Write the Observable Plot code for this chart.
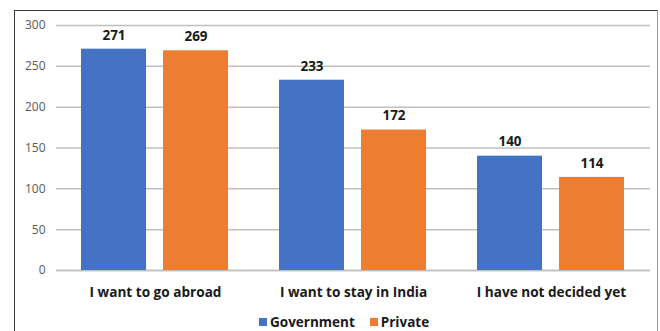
<!DOCTYPE html>
<html>
<head>
<meta charset="utf-8">
<script src="https://cdn.jsdelivr.net/npm/d3@7"></script>
<script src="https://cdn.jsdelivr.net/npm/@observablehq/plot@0.6"></script>
<style>
  html, body { margin: 0; padding: 0; background: #fff; width: 660px; height: 331px; overflow: hidden; }
  #frame { position: absolute; left: 14px; top: 10px; width: 644px; height: 340px;
           border-top: 1px solid #3a3a3a; border-left: 1px solid #3a3a3a; border-right: 1px solid #9a9a9a; box-sizing: border-box; }
  #chart { position: absolute; left: 0; top: 0; }
  #chart svg [aria-label^="fx-axis"] text { font-weight: bold; font-size: 13.6px; fill: #1a1a1a; }
  #legend { position: absolute; left: 259px; top: 313px; font-family: "Open Sans", sans-serif; font-weight: bold; font-size: 13.5px; color: #1a1a1a; display: flex; align-items: center; }
  #legend .item { display: flex; align-items: center; margin-right: 15px; }
  #legend .sw { width: 8px; height: 8px; margin-right: 3px; }
</style>
</head>
<body>
<div id="frame"></div>
<div id="chart"></div>
<div id="legend"></div>
<script>
const categories = ["I want to go abroad", "I want to stay in India", "I have not decided yet"];
const series = ["Government", "Private"];
const governmentValues = [271, 233, 140];
const privateValues = [269, 172, 114];
const colors = ["#4472C4", "#ED7D31"];
const yTicks = [0, 50, 100, 150, 200, 250, 300];

const table = [];
categories.forEach((c, i) => {
  table.push({category: c, series: series[0], value: governmentValues[i]});
  table.push({category: c, series: series[1], value: privateValues[i]});
});

const chart = Plot.plot({
  width: 660,
  height: 305,
  marginLeft: 56,
  marginRight: 10,
  marginTop: 25,
  marginBottom: 35,
  style: {fontFamily: "'Open Sans', sans-serif", fontSize: "12px", color: "#595959", background: "transparent"},
  facet: {data: table, x: "category"},
  fx: {domain: categories, padding: 0, label: null, tickSize: 0, tickPadding: 17},
  x: {domain: series, paddingInner: 0.207, paddingOuter: 0.31, axis: null},
  y: {domain: [0, 300], ticks: yTicks, grid: true, label: null, tickSize: 0, tickPadding: 11},
  color: {domain: series, range: colors},
  marks: [
    Plot.ruleY([0], {stroke: "#bfbfbf", strokeWidth: 1.5}),
    Plot.barY(table, {x: "series", y: "value", fill: "series"}),
    Plot.text(table, {x: "series", y: "value", text: d => String(d.value), dy: -14,
      fontWeight: "bold", fontSize: 13.5, fill: "#1a1a1a"})
  ]
});
d3.select(chart).selectAll('[aria-label^="y-grid"] line, [aria-label^="y-axis"] line')
  .attr("stroke", "#bfbfbf").attr("stroke-opacity", 1).attr("stroke-width", 1.5);
document.getElementById("chart").appendChild(chart);

const legend = d3.select("#legend");
series.forEach((s, i) => {
  const it = legend.append("div").attr("class", "item");
  it.append("div").attr("class", "sw").style("background", colors[i]);
  it.append("span").text(s);
});
</script>
</body>
</html>
